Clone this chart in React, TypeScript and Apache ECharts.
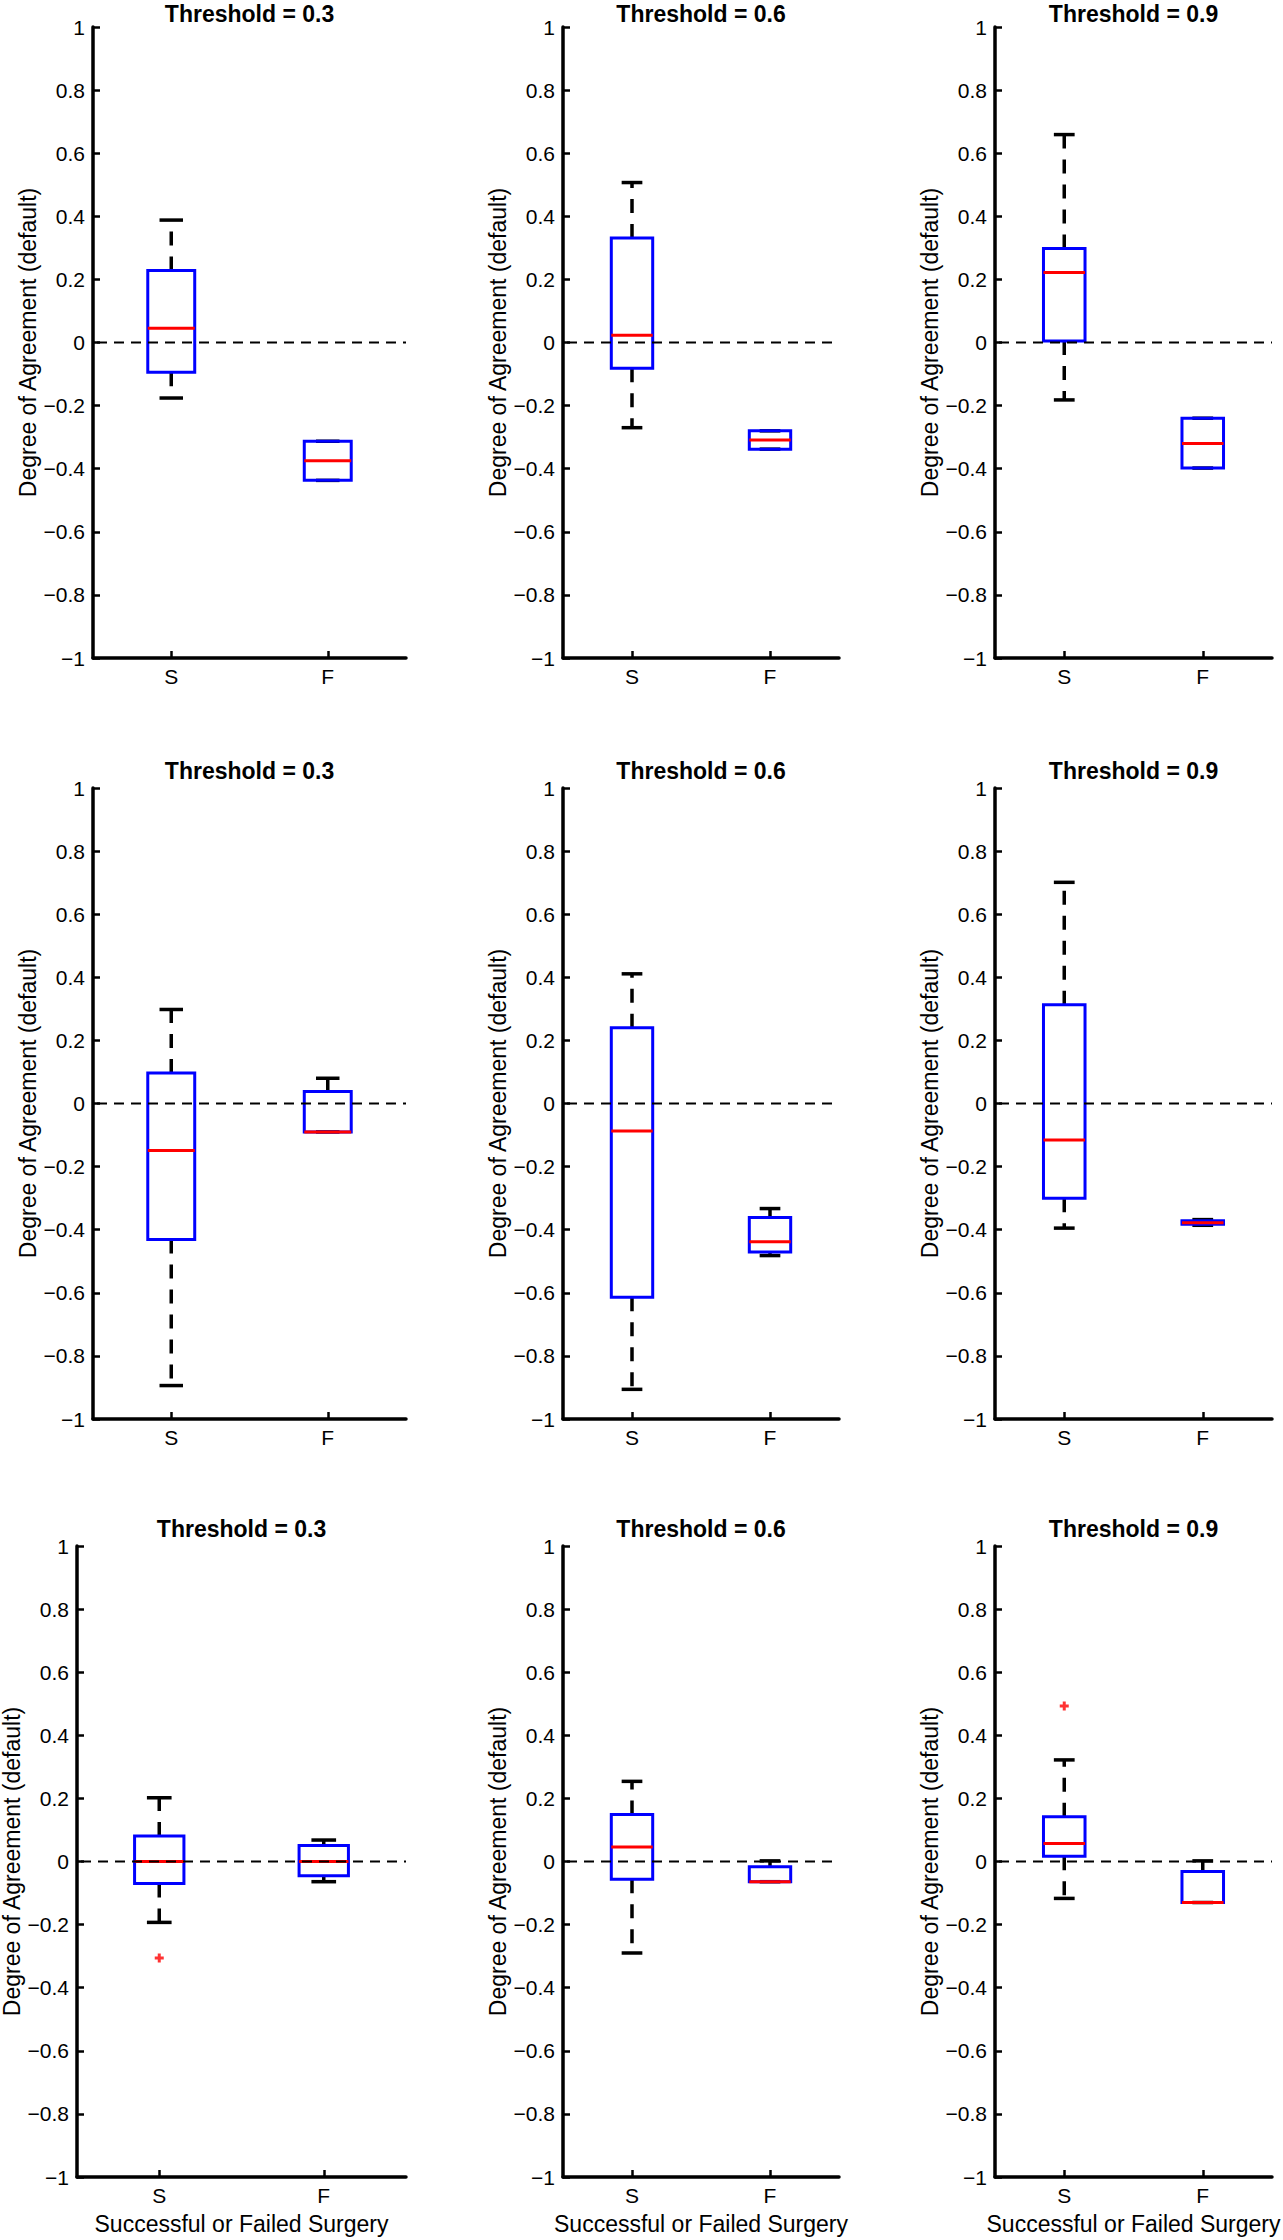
import React, { useEffect, useRef } from 'react';
import * as echarts from 'echarts';

// ---------- data ----------
const CATEGORIES = ['S', 'F'];
const PANEL_TITLES = ['Threshold = 0.3', 'Threshold = 0.6', 'Threshold = 0.9'];
const Y_LABEL = 'Degree of Agreement (default)';
const X_LABEL = 'Successful or Failed Surgery';
const Y_MIN = -1;
const Y_MAX = 1;
const Y_STEP = 0.2;
const ZERO_LEVEL = 0;

// each: [lower whisker, q1, median, q3, upper whisker]
const R1_T03_S = [-0.176, -0.094, 0.045, 0.228, 0.388];
const R1_T03_F = [-0.437, -0.437, -0.375, -0.313, -0.313];
const R1_T06_S = [-0.270, -0.082, 0.023, 0.331, 0.507];
const R1_T06_F = [-0.338, -0.338, -0.309, -0.280, -0.280];
const R1_T09_S = [-0.182, 0.005, 0.222, 0.298, 0.659];
const R1_T09_F = [-0.398, -0.398, -0.320, -0.240, -0.240];

const R2_T03_S = [-0.894, -0.431, -0.149, 0.097, 0.298];
const R2_T03_F = [-0.090, -0.090, -0.090, 0.038, 0.080];
const R2_T06_S = [-0.906, -0.614, -0.087, 0.240, 0.411];
const R2_T06_F = [-0.482, -0.471, -0.438, -0.361, -0.333];
const R2_T09_S = [-0.395, -0.300, -0.116, 0.313, 0.701];
const R2_T09_F = [-0.386, -0.383, -0.378, -0.372, -0.368];

const R3_T03_S = [-0.193, -0.070, 0.000, 0.081, 0.202];
const R3_T03_F = [-0.064, -0.045, 0.000, 0.051, 0.068];
const R3_T06_S = [-0.290, -0.056, 0.046, 0.149, 0.254];
const R3_T06_F = [-0.064, -0.064, -0.064, -0.017, 0.002];
const R3_T09_S = [-0.117, 0.017, 0.057, 0.142, 0.322];
const R3_T09_F = [-0.130, -0.130, -0.130, -0.032, 0.002];

const R3_T03_S_OUTLIERS = [-0.306];
const R3_T09_S_OUTLIERS = [0.493];

const PANELS = [
  [{ s: R1_T03_S, f: R1_T03_F, out: [] }, { s: R1_T06_S, f: R1_T06_F, out: [] }, { s: R1_T09_S, f: R1_T09_F, out: [] }],
  [{ s: R2_T03_S, f: R2_T03_F, out: [] }, { s: R2_T06_S, f: R2_T06_F, out: [] }, { s: R2_T09_S, f: R2_T09_F, out: [] }],
  [{ s: R3_T03_S, f: R3_T03_F, out: R3_T03_S_OUTLIERS }, { s: R3_T06_S, f: R3_T06_F, out: [] }, { s: R3_T09_S, f: R3_T09_F, out: R3_T09_S_OUTLIERS }],
];

// ---------- layout (pixels) ----------
const ROW_TOP = [27, 788, 1546];
const TITLE_Y = [14, 771, 1529];
const PLOT_H = 631;
const COL_LEFT = [
  [93, 563, 995],
  [93, 563, 995],
  [77, 563, 995],
];
const COL_RIGHT = [406, 839, 1272];
const BOX_FRAC = 0.3;
const FONT = '"Liberation Sans", Arial, Helvetica, sans-serif';
const PLUS_PATH = 'path://M3,0H6V3H9V6H6V9H3V6H0V3H3Z';

function fmtTick(v: number): string {
  const r = Math.round(v * 10) / 10;
  if (r === 0) return '0';
  return (r < 0 ? '\u2212' : '') + String(Math.abs(r));
}

function renderBox(params: any, api: any) {
  const cat = api.value(0);
  const mn = api.value(1);
  const q1 = api.value(2);
  const md = api.value(3);
  const q3 = api.value(4);
  const mx = api.value(5);
  const band = api.size([1, 0])[0];
  const cx = api.coord([cat, md])[0];
  const py = (v: number) => api.coord([cat, v])[1];
  const half = (band * BOX_FRAC) / 2;
  const capHalf = half / 2;
  const whisk = { stroke: '#000', lineWidth: 3.5, lineDash: [14, 11], fill: null };
  const capS = { stroke: '#000', lineWidth: 3.5, fill: null };
  const children: any[] = [];
  if (mx > q3) children.push({ type: 'line', shape: { x1: cx, y1: py(q3), x2: cx, y2: py(mx) }, style: whisk });
  if (mn < q1) children.push({ type: 'line', shape: { x1: cx, y1: py(q1), x2: cx, y2: py(mn) }, style: whisk });
  children.push({ type: 'line', shape: { x1: cx - capHalf, y1: py(mx), x2: cx + capHalf, y2: py(mx) }, style: capS });
  children.push({ type: 'line', shape: { x1: cx - capHalf, y1: py(mn), x2: cx + capHalf, y2: py(mn) }, style: capS });
  children.push({
    type: 'rect',
    shape: { x: cx - half, y: py(q3), width: 2 * half, height: py(q1) - py(q3) },
    style: { fill: 'none', stroke: '#0000ff', lineWidth: 3 },
  });
  children.push({
    type: 'line',
    shape: { x1: cx - half, y1: py(md), x2: cx + half, y2: py(md) },
    style: { stroke: '#ff0000', lineWidth: 3, fill: null },
  });
  if (params.dataIndex === CATEGORIES.length - 1) {
    const cs = params.coordSys;
    children.push({
      type: 'line',
      shape: { x1: cs.x + 4, y1: py(ZERO_LEVEL), x2: cs.x + cs.width, y2: py(ZERO_LEVEL) },
      style: { stroke: '#000', lineWidth: 2, lineDash: [10, 7], fill: null },
    });
  }
  return { type: 'group', children };
}

function buildOption() {
  const grid: any[] = [];
  const xAxis: any[] = [];
  const yAxis: any[] = [];
  const series: any[] = [];
  const graphic: any[] = [];
  for (let r = 0; r < 3; r++) {
    for (let c = 0; c < 3; c++) {
      const idx = r * 3 + c;
      const left = COL_LEFT[r][c];
      const right = COL_RIGHT[c];
      const top = ROW_TOP[r];
      grid.push({ left, top, width: right - left, height: PLOT_H, containLabel: false, outerBoundsMode: 'none' });
      xAxis.push({
        gridIndex: idx,
        type: 'category',
        data: CATEGORIES,
        boundaryGap: true,
        axisLine: { show: true, onZero: false, lineStyle: { color: '#000', width: 3.5 } },
        axisTick: { show: true, inside: true, alignWithLabel: true, length: 7, lineStyle: { color: '#000', width: 2.5 } },
        axisLabel: { color: '#000', fontSize: 21, margin: 8, interval: 0, fontFamily: FONT },
        splitLine: { show: false },
        name: r === 2 ? X_LABEL : '',
        nameLocation: 'middle',
        nameGap: 35,
        nameTextStyle: { color: '#000', fontSize: 23, fontFamily: FONT },
      });
      yAxis.push({
        gridIndex: idx,
        type: 'value',
        min: Y_MIN,
        max: Y_MAX,
        interval: Y_STEP,
        axisLine: { show: true, onZero: false, lineStyle: { color: '#000', width: 3.5 } },
        axisTick: { show: true, inside: true, length: 7, lineStyle: { color: '#000', width: 2.5 } },
        axisLabel: { color: '#000', fontSize: 21, margin: 8, formatter: fmtTick, fontFamily: FONT },
        splitLine: { show: false },
        name: Y_LABEL,
        nameLocation: 'middle',
        nameGap: 54,
        nameTextStyle: { color: '#000', fontSize: 23, fontFamily: FONT },
      });
      const p = PANELS[r][c];
      series.push({
        type: 'custom',
        xAxisIndex: idx,
        yAxisIndex: idx,
        data: [
          [0, ...p.s],
          [1, ...p.f],
        ],
        encode: { x: 0, y: [1, 2, 3, 4, 5] },
        renderItem: renderBox,
        silent: true,
        clip: false,
      });
      if (p.out.length) {
        series.push({
          type: 'scatter',
          xAxisIndex: idx,
          yAxisIndex: idx,
          data: p.out.map((v: number) => [0, v]),
          symbol: PLUS_PATH,
          symbolSize: 9,
          itemStyle: { color: '#ff0000' },
          silent: true,
          z: 5,
        });
      }
      graphic.push({
        type: 'text',
        x: (left + right) / 2,
        y: TITLE_Y[r],
        style: {
          text: PANEL_TITLES[c],
          fill: '#000',
          font: `bold 23px ${FONT}`,
          align: 'center',
          verticalAlign: 'middle',
        },
      });
    }
  }
  return {
    animation: false,
    backgroundColor: '#ffffff',
    textStyle: { fontFamily: FONT },
    grid,
    xAxis,
    yAxis,
    series,
    graphic,
  };
}

export default function App() {
  const ref = useRef<HTMLDivElement>(null);
  useEffect(() => {
    if (!ref.current) return;
    const chart = echarts.init(ref.current, null, { renderer: 'svg' });
    chart.setOption(buildOption() as any);
    return () => chart.dispose();
  }, []);
  return (
    <div
      ref={ref}
      style={{ position: 'absolute', left: 0, top: 0, width: 1283, height: 2240, background: '#fff' }}
    />
  );
}
